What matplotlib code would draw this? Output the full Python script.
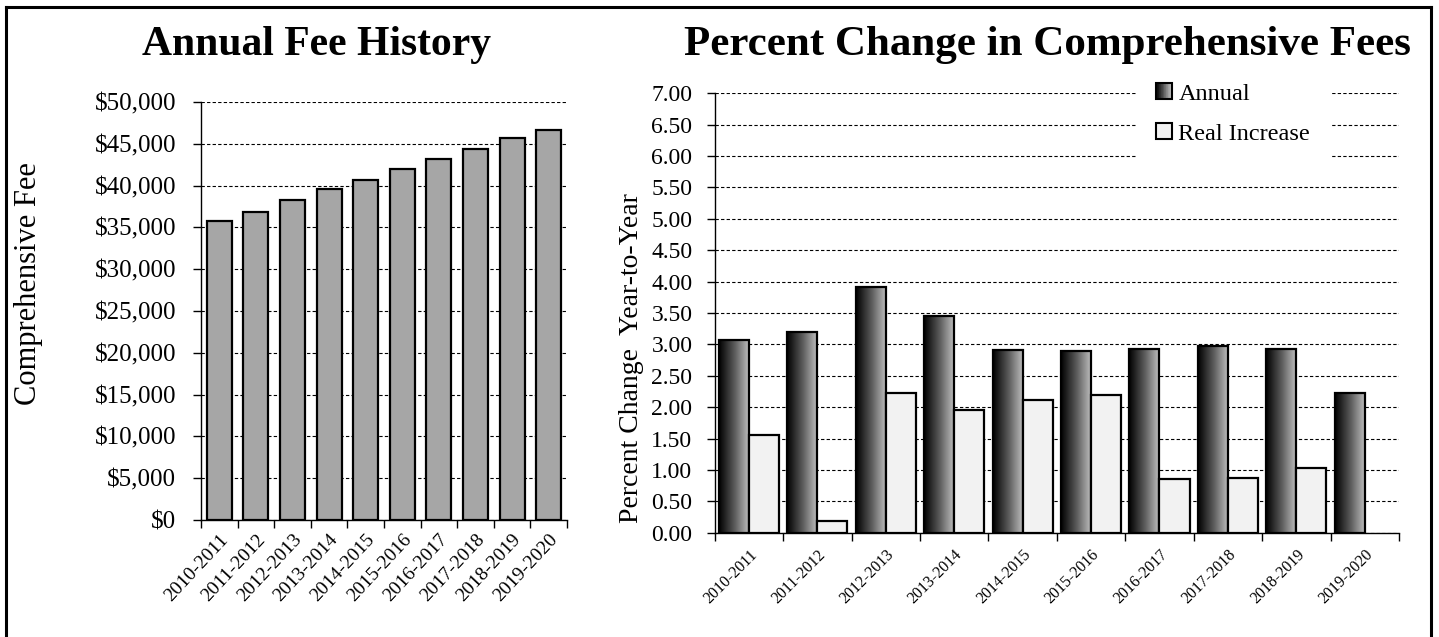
import numpy as np
import matplotlib
matplotlib.use("Agg")
import matplotlib.pyplot as plt
import matplotlib.transforms as mtransforms
from matplotlib.patches import Rectangle, Patch
from matplotlib.lines import Line2D
from matplotlib.colors import LinearSegmentedColormap
from matplotlib.legend_handler import HandlerBase
from matplotlib.ticker import FuncFormatter, MultipleLocator

plt.rcParams['font.family'] = ['Liberation Serif', 'DejaVu Serif']

# ---------------- data ----------------
years = ['2010-2011', '2011-2012', '2012-2013', '2013-2014', '2014-2015',
         '2015-2016', '2016-2017', '2017-2018', '2018-2019', '2019-2020']
fees = [35720, 36835, 38310, 39600, 40720, 42000, 43150, 44400, 45670, 46630]
annual_pct = [3.07, 3.19, 3.92, 3.45, 2.91, 2.89, 2.93, 2.98, 2.93, 2.22]
real_pct = [1.56, 0.19, 2.22, 1.95, 2.11, 2.20, 0.85, 0.87, 1.03, np.nan]

W, H = 1439, 637
fig = plt.figure(figsize=(W / 100, H / 100), dpi=100)


def fx(px):
    return px / W


def fy(py):
    return 1 - py / H


grad_cmap = LinearSegmentedColormap.from_list('g', ['#000000', '#5a5a5a', '#c4c4c4'])
dash = (0, (3, 2))

# ---------------- left chart ----------------
ax1 = fig.add_axes([fx(201), fy(520), fx(567) - fx(201), fy(102) - fy(520)])
x = np.arange(len(years))
ax1.bar(x, fees, width=0.68, color='#a6a6a6', edgecolor='black', linewidth=1.6, zorder=3)
ax1.set_xlim(-0.5, len(years) - 0.5)
ax1.set_ylim(0, 50000)
ax1.yaxis.set_major_locator(MultipleLocator(5000))
ax1.yaxis.set_major_formatter(FuncFormatter(lambda v, p: '${:,.0f}'.format(v)))
ax1.yaxis.grid(True, linestyle=dash, color='black', linewidth=0.8)
ax1.set_axisbelow(True)
ax1.set_xticks(x)
ax1.set_xticklabels(years, rotation=47, ha='right', rotation_mode='anchor', fontsize=14)
off = mtransforms.ScaledTranslation(6 / 100, 0, fig.dpi_scale_trans)
for lab in ax1.get_xticklabels():
    lab.set_transform(lab.get_transform() + off)
ax1.set_xticks(np.arange(-0.5, len(years), 1), minor=True)
ax1.tick_params(axis='x', which='major', length=0, pad=8)
ax1.tick_params(axis='x', which='minor', length=6, width=1, direction='out')
ax1.tick_params(axis='y', length=6, width=1, direction='out', labelsize=18, pad=12)
for s in ['top', 'right']:
    ax1.spines[s].set_visible(False)
for s in ['left', 'bottom']:
    ax1.spines[s].set_linewidth(1.0)

# ---------------- right chart ----------------
ax2 = fig.add_axes([fx(714.7), fy(532.7), fx(1399) - fx(714.7), fy(93.3) - fy(532.7)])
bw = 0.44
bars_a = ax2.bar(x - bw / 2, annual_pct, width=bw, facecolor='none', edgecolor='black',
                 linewidth=1.6, zorder=4)
grad = np.linspace(0, 1, 256).reshape(1, -1)
for b in bars_a:
    x0, y0 = b.get_x(), b.get_y()
    im = ax2.imshow(grad, cmap=grad_cmap, aspect='auto', interpolation='bilinear',
                    extent=(x0, x0 + b.get_width(), y0, y0 + b.get_height()), zorder=3)
    im.set_clip_path(b)
rx = [xi + bw / 2 for xi, v in zip(x, real_pct) if np.isfinite(v)]
rv = [v for v in real_pct if np.isfinite(v)]
ax2.bar(rx, rv, width=bw, color='#f2f2f2', edgecolor='black', linewidth=1.6, zorder=4)
ax2.set_xlim(-0.5, len(years) - 0.5)
ax2.set_ylim(0, 7.0)
ax2.yaxis.set_major_locator(MultipleLocator(0.5))
ax2.yaxis.set_major_formatter(FuncFormatter(lambda v, p: '{:.2f}'.format(v)))
ax2.yaxis.grid(True, linestyle=dash, color='black', linewidth=0.8)
ax2.set_axisbelow(True)
ax2.set_xticks(x)
ax2.set_xticklabels(years, rotation=45, ha='right', rotation_mode='anchor', fontsize=11.5)
ax2.set_xticks(np.arange(-0.5, len(years), 1), minor=True)
ax2.tick_params(axis='x', which='major', length=0, pad=10)
ax2.tick_params(axis='x', which='minor', length=6, width=1, direction='out')
ax2.tick_params(axis='y', length=6, width=1, direction='out', labelsize=17, pad=10)
for s in ['top', 'right']:
    ax2.spines[s].set_visible(False)
for s in ['left', 'bottom']:
    ax2.spines[s].set_linewidth(1.0)


class GradientHandler(HandlerBase):
    def create_artists(self, legend, orig_handle, xdescent, ydescent, width, height,
                       fontsize, trans):
        x0, y0 = -xdescent, -ydescent
        side = height
        n = 24
        arts = []
        for k in range(n):
            arts.append(Rectangle((x0 + k * side / n, y0), side / n, side,
                                  facecolor=grad_cmap(k / (n - 1)), edgecolor='none',
                                  transform=trans))
        arts.append(Rectangle((x0, y0), side, side, facecolor='none', edgecolor='black',
                              linewidth=1.5, transform=trans))
        return arts


class SquareHandler(HandlerBase):
    def create_artists(self, legend, orig_handle, xdescent, ydescent, width, height,
                       fontsize, trans):
        x0, y0 = -xdescent, -ydescent
        return [Rectangle((x0, y0), height, height, facecolor=orig_handle.get_facecolor(),
                          edgecolor='black', linewidth=1.5, transform=trans)]


h_annual = Patch(facecolor='#404040', edgecolor='black')
h_real = Patch(facecolor='#f2f2f2', edgecolor='black')
leg = ax2.legend([h_annual, h_real], ['Annual', 'Real Increase'],
                 handler_map={h_annual: GradientHandler(), h_real: SquareHandler()},
                 loc='center', bbox_to_anchor=(fx(1233), fy(114)), bbox_transform=fig.transFigure,
                 fontsize=17.5, frameon=True, facecolor='white', edgecolor='none', framealpha=1,
                 fancybox=False, handlelength=0.62, handleheight=0.62, handletextpad=0.3,
                 labelspacing=0.75, borderpad=0.8, borderaxespad=0)
leg.set_zorder(6)

# ---------------- titles and labels ----------------
fig.text(fx(317), fy(55), 'Annual Fee History', fontsize=30, fontweight='bold',
         ha='center', va='baseline')
fig.text(fx(1047), fy(55), 'Percent Change in Comprehensive Fees', fontsize=31,
         fontweight='bold', ha='center', va='baseline')
fig.text(fx(29), fy(284), 'Comprehensive Fee', fontsize=22, rotation=90,
         ha='center', va='center')
fig.text(fx(632), fy(358), 'Percent Change  Year-to-Year', fontsize=20, rotation=90,
         ha='center', va='center')

# ---------------- outer frame ----------------
lw = 2.2
fig.add_artist(Line2D([fx(6), fx(6)], [fy(7), fy(660)], color='black', lw=lw))
fig.add_artist(Line2D([fx(6), fx(1431)], [fy(7), fy(7)], color='black', lw=lw))
fig.add_artist(Line2D([fx(1431), fx(1431)], [fy(7), fy(660)], color='black', lw=lw))

fig.savefig('out.png', dpi=100)
